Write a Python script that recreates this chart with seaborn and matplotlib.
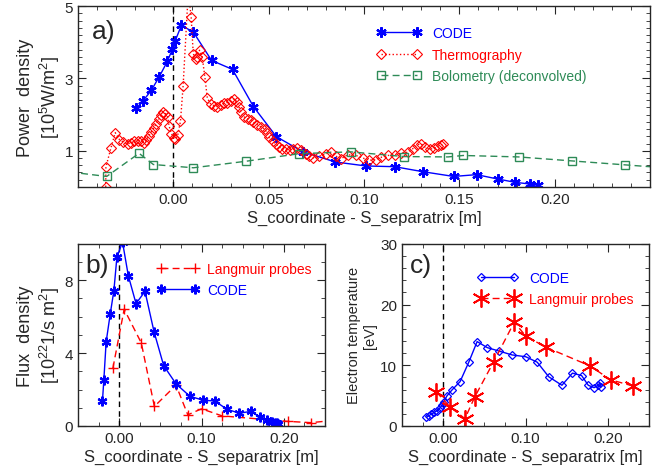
import numpy as np
import pandas as pd
import matplotlib
matplotlib.use("Agg")
import matplotlib.pyplot as plt
import seaborn as sns
from matplotlib.ticker import MultipleLocator, FixedLocator

sns.set_style("ticks")
plt.rcParams["font.family"] = ["Liberation Sans", "DejaVu Sans"]
plt.rcParams["mathtext.default"] = "regular"

# ---- panel a: power density ----
code_a_x = [-0.0195, -0.0158, -0.0116, -0.0074, -0.0032, -0.0005, 0.0010, 0.0042, 0.0105,
            0.0200, 0.0310, 0.0420, 0.0540, 0.0680, 0.0850, 0.1010, 0.1160, 0.1310, 0.1470,
            0.1590, 0.1700, 0.1790, 0.1870, 0.1910, 0.1970]
code_a_y = [2.17, 2.39, 2.67, 3.05, 3.47, 3.81, 4.05, 4.47, 4.28, 3.50, 3.25, 2.22, 1.39,
            0.97, 0.69, 0.58, 0.56, 0.42, 0.29, 0.34, 0.22, 0.13, 0.08, 0.05, -0.4]

therm_x = [-0.0355, -0.0354, -0.0328, -0.0305, -0.0283, -0.0262, -0.0240, -0.0223, -0.0205,
           -0.0188, -0.0170, -0.0156, -0.0142, -0.0130, -0.0116, -0.0104, -0.0090, -0.0077,
           -0.0065, -0.0054, -0.0042, -0.0030, -0.0023, -0.0010, 0.0002, 0.0010, 0.0023,
           0.0037, 0.0051, 0.0078, 0.0093, 0.0104, 0.0116, 0.0125, 0.0137, 0.0151, 0.0165,
           0.0178, 0.0195, 0.0212, 0.0230, 0.0250, 0.0265, 0.0280, 0.0300, 0.0317, 0.0332,
           0.0344, 0.0353, 0.0370, 0.0390, 0.0405, 0.0420, 0.0440, 0.0460, 0.0480, 0.0490,
           0.0500, 0.0520, 0.0537, 0.0555, 0.0570, 0.0590, 0.0610, 0.0625, 0.0647, 0.0668,
           0.0695, 0.0712, 0.0730, 0.0765, 0.0800, 0.0826, 0.0853, 0.0879, 0.0914, 0.0958,
           0.0993, 0.1028, 0.1060, 0.1090, 0.1125, 0.1160, 0.1195, 0.1230, 0.1256, 0.1280,
           0.1300, 0.1320, 0.1344, 0.1367, 0.1388, 0.1405, 0.1414]
therm_y = [0.0, 0.55, 1.07, 1.50, 1.31, 1.24, 1.19, 1.22, 1.26, 1.28, 1.27, 1.22, 1.29, 1.41,
           1.52, 1.63, 1.75, 1.87, 1.98, 2.07, 2.03, 1.94, 1.69, 1.47, 1.35, 1.33, 1.44, 1.81,
           2.80, 5.40, 4.71, 3.69, 3.53, 3.60, 3.78, 3.60, 3.04, 2.45, 2.30, 2.25, 2.22, 2.26,
           2.31, 2.33, 2.37, 2.44, 2.35, 2.21, 2.07, 1.94, 1.88, 1.84, 1.79, 1.72, 1.66, 1.60,
           1.50, 1.38, 1.26, 1.19, 1.10, 1.06, 1.04, 1.03, 1.05, 1.08, 1.01, 0.92, 0.85, 0.80,
           0.85, 0.92, 0.96, 0.85, 0.78, 0.89, 0.87, 0.80, 0.74, 0.75, 0.82, 0.87, 0.89, 0.94,
           0.96, 1.06, 1.17, 1.19, 1.10, 1.04, 1.07, 1.13, 1.17, 1.19]

bolo_x = [-0.060, -0.0350, -0.0180, -0.0105, 0.0105, 0.0380, 0.0660, 0.0930, 0.1210,
          0.1440, 0.1520, 0.1810, 0.2090, 0.2370, 0.2650]
bolo_y = [0.45, 0.29, 0.93, 0.62, 0.53, 0.71, 0.92, 0.97, 0.84, 0.83, 0.87, 0.83, 0.72,
          0.61, 0.50]

# ---- panel b: flux density ----
lp_b_x = [-0.0077, 0.0060, 0.0268, 0.0427, 0.0690, 0.0833, 0.1000, 0.1250, 0.2045, 0.2330, 0.2600]
lp_b_y = [3.17, 6.41, 4.56, 1.07, 2.24, 0.61, 0.94, 0.55, 0.25, 0.18, 0.30]

code_b_x = [-0.0204, -0.0187, -0.0159, -0.0110, -0.0065, -0.0028, 0.0040, 0.0110, 0.0204,
            0.0313, 0.0423, 0.0540, 0.0690, 0.0858, 0.1020, 0.1160, 0.1310, 0.1460, 0.1600,
            0.1710, 0.1790, 0.1850, 0.1890, 0.1920, 0.1930]
code_b_y = [1.35, 2.52, 4.61, 6.13, 7.43, 9.28, 10.1, 8.26, 6.72, 7.39, 5.17, 3.31, 2.31,
            1.63, 1.41, 1.37, 0.91, 0.70, 0.80, 0.48, 0.33, 0.20, 0.15, 0.15, 0.08]

# ---- panel c: electron temperature ----
code_c_x = [-0.0204, -0.0176, -0.0144, -0.0108, -0.0075, -0.0044, -0.0016, 0.0004, 0.0044,
            0.0104, 0.0204, 0.0311, 0.0411, 0.0535, 0.0674, 0.0835, 0.1002, 0.1141, 0.1281,
            0.1441, 0.1569, 0.1680, 0.1761, 0.1832, 0.1880, 0.1901, 0.1913]
code_c_y = [1.4, 1.68, 1.96, 2.24, 2.52, 2.91, 3.37, 3.93, 4.94, 5.9, 7.3, 10.55, 13.9, 12.9,
            12.35, 11.7, 11.4, 10.5, 8.1, 6.7, 8.7, 8.3, 6.7, 6.3, 6.7, 7.1, 6.45]

lp_c_x = [-0.0084, 0.0084, 0.0263, 0.0383, 0.0611, 0.0862, 0.1002, 0.1242, 0.1781, 0.2032, 0.2299]
lp_c_y = [5.6, 3.1, 1.2, 4.8, 10.55, 17.1, 14.8, 13.0, 9.9, 7.6, 6.6]

xticks_a = [0.0, 0.05, 0.10, 0.15, 0.20]
yticks_a = [1, 3, 5]
xticks_bc = [0.0, 0.10, 0.20]
xlabel = "S_coordinate - S_separatrix [m]"
BLUE, RED, GREEN = "#0000ff", "#ff0000", "#2e8b57"
star = (6, 2, 0)

fig = plt.figure(figsize=(6.56, 4.77), dpi=100)
ax_a = fig.add_axes([0.119, 0.606, 0.872, 0.379])
ax_b = fig.add_axes([0.119, 0.105, 0.3765, 0.3816])
ax_c = fig.add_axes([0.613, 0.105, 0.3765, 0.3816])


def line(ax, x, y, label, color, ls, marker, ms, mfc, lw=1.0, mew=1.0):
    df = pd.DataFrame({"x": x, "y": y})
    sns.lineplot(data=df, x="x", y="y", ax=ax, sort=False, estimator=None, label=label,
                 color=color, linestyle=ls, linewidth=lw, marker=marker, markersize=ms,
                 markerfacecolor=mfc, markeredgecolor=color, markeredgewidth=mew)


def style(ax, xticks, xmin, ymin, ylim):
    ax.set_xlim(-0.05, 0.25)
    ax.set_ylim(*ylim)
    ax.xaxis.set_major_locator(FixedLocator(xticks))
    ax.xaxis.set_minor_locator(MultipleLocator(xmin))
    ax.yaxis.set_minor_locator(MultipleLocator(ymin))
    ax.xaxis.set_major_formatter(plt.FormatStrFormatter("%.2f"))
    ax.tick_params(which="both", direction="in", top=True, right=True, labelsize=11)
    ax.tick_params(which="major", length=6)
    ax.tick_params(which="minor", length=3)
    ax.axvline(0, color="black", linestyle=(0, (4, 3)), linewidth=1.0, zorder=1)
    for s in ax.spines.values():
        s.set_linewidth(1.0)
    ax.set_xlabel(xlabel, fontsize=12, labelpad=3)


# panel a
line(ax_a, code_a_x, code_a_y, "CODE", BLUE, "-", star, 7.5, BLUE, mew=1.6)
line(ax_a, therm_x, therm_y, "Thermography", RED, ":", "D", 5, "none", mew=0.8)
line(ax_a, bolo_x, bolo_y, "Bolometry (deconvolved)", GREEN, (0, (5, 3)), "s", 6, "none")
style(ax_a, xticks_a, 0.01, 0.2, (0, 5))
ax_a.yaxis.set_major_locator(FixedLocator(yticks_a))
ax_a.set_ylabel("Power  density\n[10$^5$W/m$^2$]", fontsize=13, labelpad=2)
ax_a.text(0.025, 0.93, "a)", transform=ax_a.transAxes, fontsize=19, va="top")
leg = ax_a.legend(loc="upper left", bbox_to_anchor=(0.5, 0.96), frameon=False, fontsize=10,
                  handlelength=3.2, numpoints=2, labelspacing=0.55, handletextpad=0.8)
for t, c in zip(leg.get_texts(), [BLUE, RED, GREEN]):
    t.set_color(c)

# panel b
line(ax_b, lp_b_x, lp_b_y, "Langmuir probes", RED, (0, (5, 3)), "+", 7, RED)
line(ax_b, code_b_x, code_b_y, "CODE", BLUE, "-", star, 7, BLUE, mew=1.6)
style(ax_b, xticks_bc, 0.025, 1, (0, 10))
ax_b.yaxis.set_major_locator(MultipleLocator(4))
ax_b.set_ylabel("Flux  density\n[10$^{22}$1/s m$^2$]", fontsize=13, labelpad=2)
ax_b.text(0.03, 0.95, "b)", transform=ax_b.transAxes, fontsize=19, va="top")
leg = ax_b.legend(loc="upper left", bbox_to_anchor=(0.27, 0.97), frameon=False, fontsize=10,
                  handlelength=3.0, numpoints=2, labelspacing=0.5, handletextpad=0.6)
for t, c in zip(leg.get_texts(), [RED, BLUE]):
    t.set_color(c)

# panel c
line(ax_c, code_c_x, code_c_y, "CODE", BLUE, "-", "D", 4.5, "none", mew=0.9)
line(ax_c, lp_c_x, lp_c_y, "Langmuir probes", RED, (0, (5, 3)), star, 13, RED, mew=1.3)
style(ax_c, xticks_bc, 0.025, 2, (0, 30))
ax_c.yaxis.set_major_locator(MultipleLocator(10))
ax_c.set_ylabel("Electron temperature\n[eV]", fontsize=10.5, labelpad=2)
ax_c.text(0.03, 0.95, "c)", transform=ax_c.transAxes, fontsize=19, va="top")
leg = ax_c.legend(loc="upper left", bbox_to_anchor=(0.25, 0.92), frameon=False, fontsize=10,
                  handlelength=3.0, numpoints=2, labelspacing=0.5, handletextpad=0.8)
for t, c in zip(leg.get_texts(), [BLUE, RED]):
    t.set_color(c)

fig.savefig("out.png", dpi=100)
